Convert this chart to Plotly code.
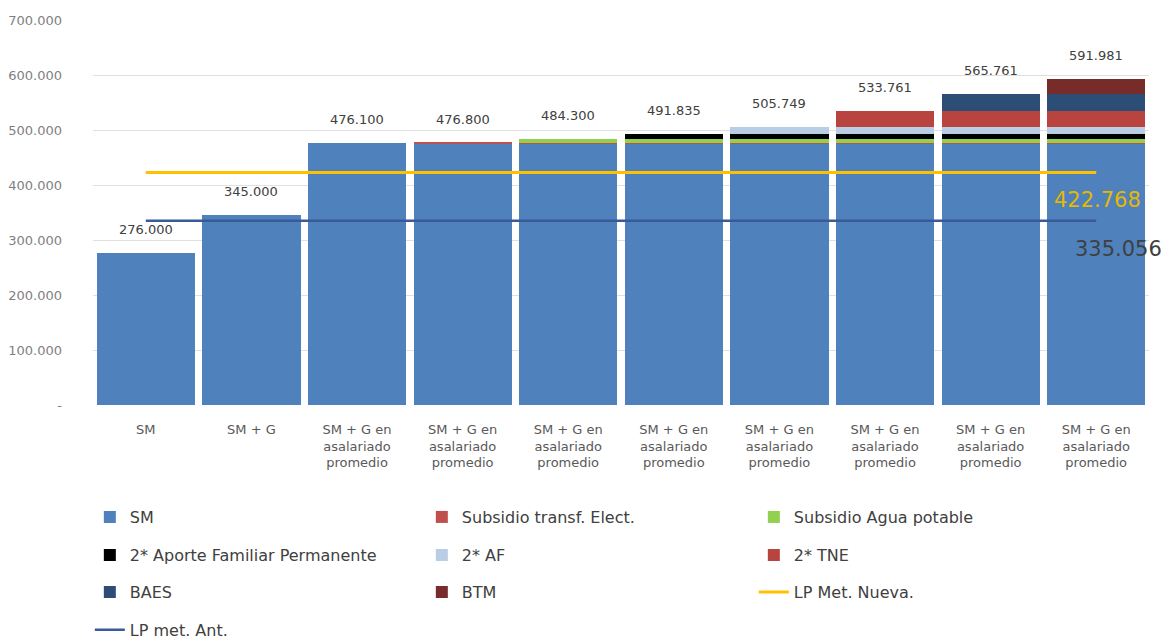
import plotly.graph_objects as go

categories = ["SM", "SM + G"] + ["SM + G en<br>asalariado<br>promedio"] * 8

sm = [276000, 345000, 476100, 476100, 476100, 476100, 476100, 476100, 476100, 476100]
elect = [0, 0, 0, 700, 700, 700, 700, 700, 700, 700]
agua = [0, 0, 0, 0, 7500, 7500, 7500, 7500, 7500, 7500]
aporte = [0, 0, 0, 0, 0, 7535, 7535, 7535, 7535, 7535]
af = [0, 0, 0, 0, 0, 0, 13914, 13914, 13914, 13914]
tne = [0, 0, 0, 0, 0, 0, 0, 28012, 28012, 28012]
baes = [0, 0, 0, 0, 0, 0, 0, 0, 32000, 32000]
btm = [0, 0, 0, 0, 0, 0, 0, 0, 0, 26220]

lp_nueva = 422768
lp_ant = 335056

y_ticks = [0, 100000, 200000, 300000, 400000, 500000, 600000, 700000]

FONT = "DejaVu Sans"

# name, values, colour, legend row
series = [
	("SM", sm, "#4f81bd", "legend"),
	("Subsidio transf. Elect.", elect, "#c0504d", "legend"),
	("Subsidio Agua potable", agua, "#92d050", "legend"),
	("2* Aporte Familiar Permanente", aporte, "#000000", "legend2"),
	("2* AF", af, "#b9cde5", "legend2"),
	("2* TNE", tne, "#b8433f", "legend2"),
	("BAES", baes, "#2c4d75", "legend3"),
	("BTM", btm, "#772c2a", "legend3"),
]


def fmt(v):
	# thousands with dots, zero shown as dash
	if v == 0:
		return "-"
	return f"{v:,.0f}".replace(",", ".")


x = list(range(len(categories)))
totals = [sum(vals) for vals in zip(sm, elect, agua, aporte, af, tne, baes, btm)]

fig = go.Figure()
for name, vals, color, leg in series:
	fig.add_trace(
		go.Bar(
			x=x,
			y=vals,
			name=name,
			legend=leg,
			marker=dict(color=color, line=dict(width=0)),
		)
	)

fig.add_trace(
	go.Scatter(
		x=x,
		y=[lp_nueva] * len(x),
		mode="lines",
		name="LP Met. Nueva.",
		legend="legend3",
		line=dict(color="#ffc000", width=3),
	)
)
fig.add_trace(
	go.Scatter(
		x=x,
		y=[lp_ant] * len(x),
		mode="lines",
		name="LP met. Ant.",
		legend="legend4",
		line=dict(color="#3a5a9a", width=2.5),
	)
)

annotations = []
for xi, t in zip(x, totals):
	annotations.append(
		dict(
			x=xi, y=t, xref="x", yref="y", text=fmt(t), showarrow=False,
			yanchor="bottom", yshift=14,
			font=dict(size=13, color="#404040", family=FONT),
		)
	)
annotations.append(
	dict(
		x=x[-1], y=lp_nueva, xref="x", yref="y", text=fmt(lp_nueva), showarrow=False,
		yanchor="top", xanchor="center", yshift=-14, xshift=1,
		font=dict(size=21, color="#e6b800", family=FONT),
	)
)
annotations.append(
	dict(
		x=x[-1], y=lp_ant, xref="x", yref="y", text=fmt(lp_ant), showarrow=False,
		yanchor="top", xanchor="center", yshift=-14, xshift=22,
		font=dict(size=21, color="#404040", family=FONT),
	)
)


def legend_row(y):
	return dict(
		orientation="h",
		x=-0.003,
		xanchor="left",
		y=y,
		yanchor="middle",
		entrywidth=287,
		entrywidthmode="pixels",
		traceorder="normal",
		bgcolor="rgba(0,0,0,0)",
		font=dict(size=16, color="#404040", family=FONT),
	)


fig.update_layout(
	width=1162,
	height=639,
	barmode="stack",
	bargap=0.07,
	plot_bgcolor="white",
	paper_bgcolor="white",
	margin=dict(l=93, r=13, t=20, b=234, autoexpand=False),
	font=dict(family=FONT, color="#595959", size=13),
	annotations=annotations,
	showlegend=True,
	legend=legend_row(-0.291),
	legend2=legend_row(-0.390),
	legend3=legend_row(-0.486),
	legend4=legend_row(-0.584),
	xaxis=dict(
		tickvals=x,
		ticktext=categories,
		range=[-0.5, len(x) - 0.5],
		showgrid=False,
		zeroline=False,
		ticks="outside",
		ticklen=12,
		tickcolor="rgba(0,0,0,0)",
		tickfont=dict(size=13, color="#595959"),
	),
	yaxis=dict(
		range=[0, 700000],
		tickvals=y_ticks,
		ticktext=[fmt(v) for v in y_ticks],
		showgrid=True,
		gridcolor="#e0e0e0",
		zeroline=False,
		tickfont=dict(size=13, color="#7f7f7f"),
		ticklabelstandoff=30,
	),
)

# drop the default page margin so the figure sits at the window origin
fig.write_html(
	"out.html",
	config={"displayModeBar": False},
	post_script="document.body.style.margin='0';document.body.style.overflow='hidden';",
)
